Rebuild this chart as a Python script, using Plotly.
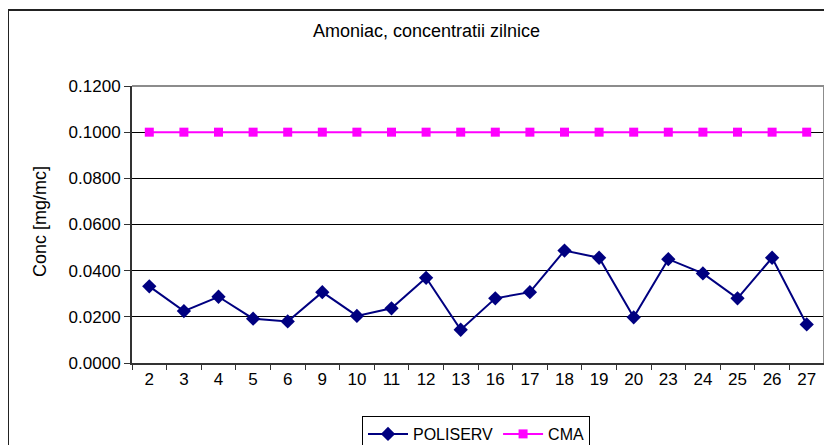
import plotly.graph_objects as go

days = ["2", "3", "4", "5", "6", "9", "10", "11", "12", "13",
        "16", "17", "18", "19", "20", "23", "24", "25", "26", "27"]
poliserv = [0.0332, 0.0225, 0.0287, 0.0192, 0.0180, 0.0307, 0.0204, 0.0237, 0.0369, 0.0144,
            0.0280, 0.0307, 0.0487, 0.0456, 0.0198, 0.0450, 0.0388, 0.0280, 0.0456, 0.0167]
cma = [0.1000] * 20

FONT = "Liberation Sans, Arial, sans-serif"

fig = go.Figure()
fig.add_trace(go.Scatter(
    x=days, y=poliserv, name="POLISERV", mode="lines+markers",
    line=dict(color="#000080", width=2),
    marker=dict(symbol="diamond", size=11, color="#000080"),
))
fig.add_trace(go.Scatter(
    x=days, y=cma, name="CMA", mode="lines+markers",
    line=dict(color="#FF00FF", width=2),
    marker=dict(symbol="square", size=9, color="#FF00FF"),
))

# page body has an 8px margin: screen coords = figure coords + 8
OFF = 8
W, H = 832, 445
pw, ph = 692, 277
L, T = 132 - OFF, 86 - OFF
R, B = W - L - pw, H - T - ph

def px(x):
    return (x - OFF - L) / pw

def py(y):
    return (H - B - (y - OFF)) / ph

fig.update_layout(
    width=W, height=H,
    margin=dict(l=L, r=R, t=T, b=B, autoexpand=False),
    paper_bgcolor="white", plot_bgcolor="white",
    font=dict(family=FONT, size=16, color="black"),
    showlegend=True,
    legend=dict(
        orientation="h", xanchor="center", yanchor="top",
        x=px(476), y=py(416),
        bordercolor="black", borderwidth=1, bgcolor="white",
        font=dict(size=16), itemwidth=40, tracegroupgap=0,
    ),
    xaxis=dict(
        type="category", showgrid=False, zeroline=False,
        showline=True, linecolor="#333333", linewidth=2,
        ticks="outside", tickson="boundaries", ticklen=5, tickcolor="#333333",
        tickfont=dict(size=17), automargin=False,
        range=[-0.5, 19.5],
    ),
    yaxis=dict(
        range=[0, 0.12], dtick=0.02, tickformat=".4f",
        showgrid=True, gridcolor="black", gridwidth=1, zeroline=False,
        showline=True, linecolor="#333333", linewidth=2,
        ticks="outside", ticklen=6, tickcolor="#333333",
        tickfont=dict(size=17), automargin=False,
    ),
    shapes=[
        dict(type="line", xref="paper", yref="paper", x0=0, x1=1, y0=1, y1=1,
             line=dict(color="#8c8c8c", width=2), layer="above"),
        dict(type="line", xref="paper", yref="paper", x0=1, x1=1, y0=0, y1=1,
             line=dict(color="#8c8c8c", width=2), layer="above"),
        dict(type="rect", xref="paper", yref="paper",
             x0=px(8), x1=px(845), y0=py(10), y1=py(470),
             line=dict(color="#222222", width=2), layer="above"),
    ],
    annotations=[
        dict(text="Amoniac, concentratii zilnice", xref="paper", yref="paper",
             x=px(426), y=py(31), showarrow=False, xanchor="center", yanchor="middle",
             font=dict(size=18)),
        dict(text="Conc [mg/mc]", xref="paper", yref="paper",
             x=px(40), y=py(222), showarrow=False, textangle=-90,
             xanchor="center", yanchor="middle", font=dict(size=18)),
    ],
)

fig.write_html("out.html")
